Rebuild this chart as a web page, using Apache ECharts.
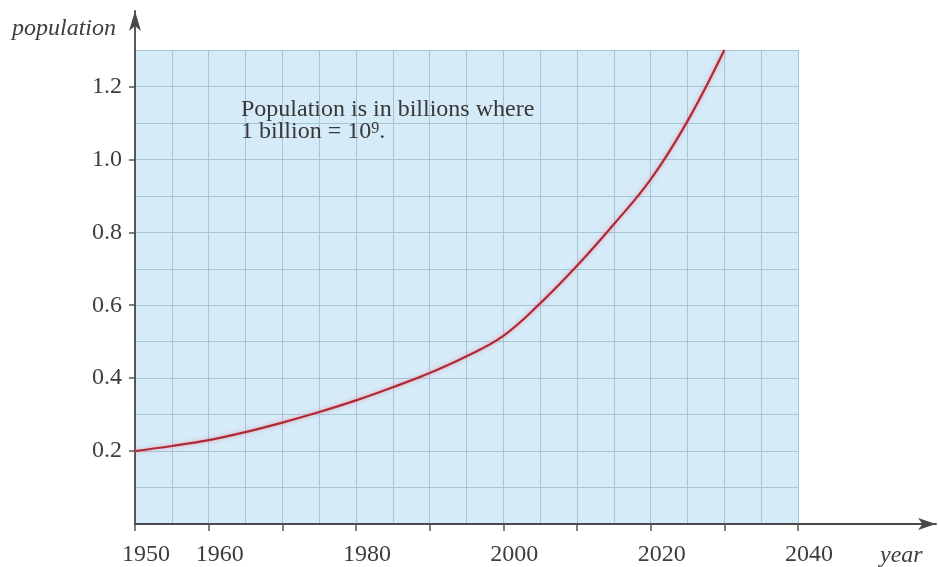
<!DOCTYPE html>
<html>
<head>
<meta charset="utf-8">
<script src="https://cdn.jsdelivr.net/npm/echarts@6/dist/echarts.min.js"></script>
<style>
  html, body { margin: 0; padding: 0; background: #ffffff; }
  #chart { width: 938px; height: 567px; }
</style>
</head>
<body>
<div id="chart"></div>
<script>
// Population (billions) by year
const years = [1950, 1955, 1960, 1965, 1970, 1975, 1980, 1985, 1990, 1995, 2000, 2005, 2010, 2015, 2020, 2025, 2030];
const population = [0.200, 0.214, 0.230, 0.252, 0.278, 0.307, 0.339, 0.375, 0.414, 0.460, 0.516, 0.605, 0.708, 0.822, 0.945, 1.105, 1.300];

// Axis ticks and labels
const xTickYears = [1950, 1960, 1970, 1980, 1990, 2000, 2010, 2020, 2030, 2040];
const xLabelYears = [1950, 1960, 1980, 2000, 2020, 2040];
const yTickValues = [0.2, 0.4, 0.6, 0.8, 1.0, 1.2];

const FONT = '"Liberation Serif", "Times New Roman", serif';
const TEXT = '#3d3d3d';
const GRIDLINE = '#a6c5d8';

const chart = echarts.init(document.getElementById('chart'), null, { renderer: 'canvas' });

const option = {
  animation: false,
  backgroundColor: '#ffffff',
  grid: [
    // shaded plotting area
    { left: 135, right: 140, top: 50, bottom: 43, show: true, backgroundColor: '#d5ebf8', borderWidth: 0 },
    // long axes with arrow heads
    { left: 135, right: 2, top: 11, bottom: 43, show: false }
  ],
  xAxis: [
    {
      gridIndex: 0, type: 'value', min: 1950, max: 2040, interval: 5,
      axisLine: { show: false }, axisTick: { show: false }, axisLabel: { show: false },
      splitLine: { show: true, lineStyle: { color: GRIDLINE, width: 1 } }
    },
    {
      gridIndex: 0, type: 'value', min: 1950, max: 2040, interval: 10, position: 'bottom',
      axisLine: { show: false },
      axisTick: { show: true, inside: false, length: 7, customValues: xTickYears,
                  lineStyle: { color: '#555', width: 1.5 } },
      axisLabel: {
        show: true, customValues: xLabelYears, margin: 19,
        showMinLabel: true, showMaxLabel: true,
        padding: [0, 0, 0, 22],
        color: TEXT, fontFamily: FONT, fontSize: 24,
        formatter: v => (xLabelYears.indexOf(Math.round(v)) >= 0 ? String(Math.round(v)) : '')
      },
      splitLine: { show: false }
    },
    {
      gridIndex: 1, type: 'value', min: 0, max: 1,
      axisLine: { show: true, onZero: false, symbol: ['none', 'arrow'], symbolSize: [9, 18],
                  lineStyle: { color: '#4a4a4a', width: 1.8 } },
      axisTick: { show: false }, axisLabel: { show: false }, splitLine: { show: false }
    }
  ],
  yAxis: [
    {
      gridIndex: 0, type: 'value', min: 0, max: 1.3, interval: 0.1,
      axisLine: { show: false }, axisTick: { show: false }, axisLabel: { show: false },
      splitLine: { show: true, lineStyle: { color: GRIDLINE, width: 1 } }
    },
    {
      gridIndex: 0, type: 'value', min: 0, max: 1.3, interval: 0.2, position: 'left',
      axisLine: { show: false },
      axisTick: { show: true, inside: false, length: 6, customValues: yTickValues,
                  lineStyle: { color: '#555', width: 1.5 } },
      axisLabel: {
        show: true, customValues: yTickValues, margin: 13,
        color: TEXT, fontFamily: FONT, fontSize: 24,
        formatter: v => {
          const r = Math.round(v * 10) / 10;
          return yTickValues.some(t => Math.abs(t - r) < 1e-6) ? r.toFixed(1) : '';
        }
      },
      splitLine: { show: false }
    },
    {
      gridIndex: 1, type: 'value', min: 0, max: 1,
      axisLine: { show: true, onZero: false, symbol: ['none', 'arrow'], symbolSize: [9, 20],
                  lineStyle: { color: '#4a4a4a', width: 1.8 } },
      axisTick: { show: false }, axisLabel: { show: false }, splitLine: { show: false }
    }
  ],
  series: [
    {
      type: 'line',
      xAxisIndex: 0, yAxisIndex: 0,
      data: years.map((y, i) => [y, population[i]]),
      smooth: 0.4,
      showSymbol: false,
      lineStyle: {
        color: '#b02a33', width: 2.2,
        shadowColor: 'rgba(240, 120, 150, 0.7)', shadowBlur: 4
      },
      z: 5
    }
  ],
  graphic: [
    {
      type: 'text', x: 12, y: 29, z: 10,
      style: { text: 'population', font: 'italic 24px ' + FONT, fill: TEXT, align: 'left', verticalAlign: 'middle' }
    },
    {
      type: 'text', x: 880, y: 556, z: 10,
      style: { text: 'year', font: 'italic 24px ' + FONT, fill: TEXT, align: 'left', verticalAlign: 'middle' }
    },
    {
      type: 'text', x: 241, y: 99, z: 10,
      style: {
        text: 'Population is in billions where\n1 billion = 10{sup|9}.',
        font: '24px ' + FONT, fill: '#383838', lineHeight: 22,
        rich: {
          sup: { fontSize: 16, fontFamily: FONT, fill: '#383838', verticalAlign: 'top', lineHeight: 22, padding: [0, 0, 8, 0] }
        }
      }
    }
  ]
};

chart.setOption(option);
</script>
</body>
</html>
